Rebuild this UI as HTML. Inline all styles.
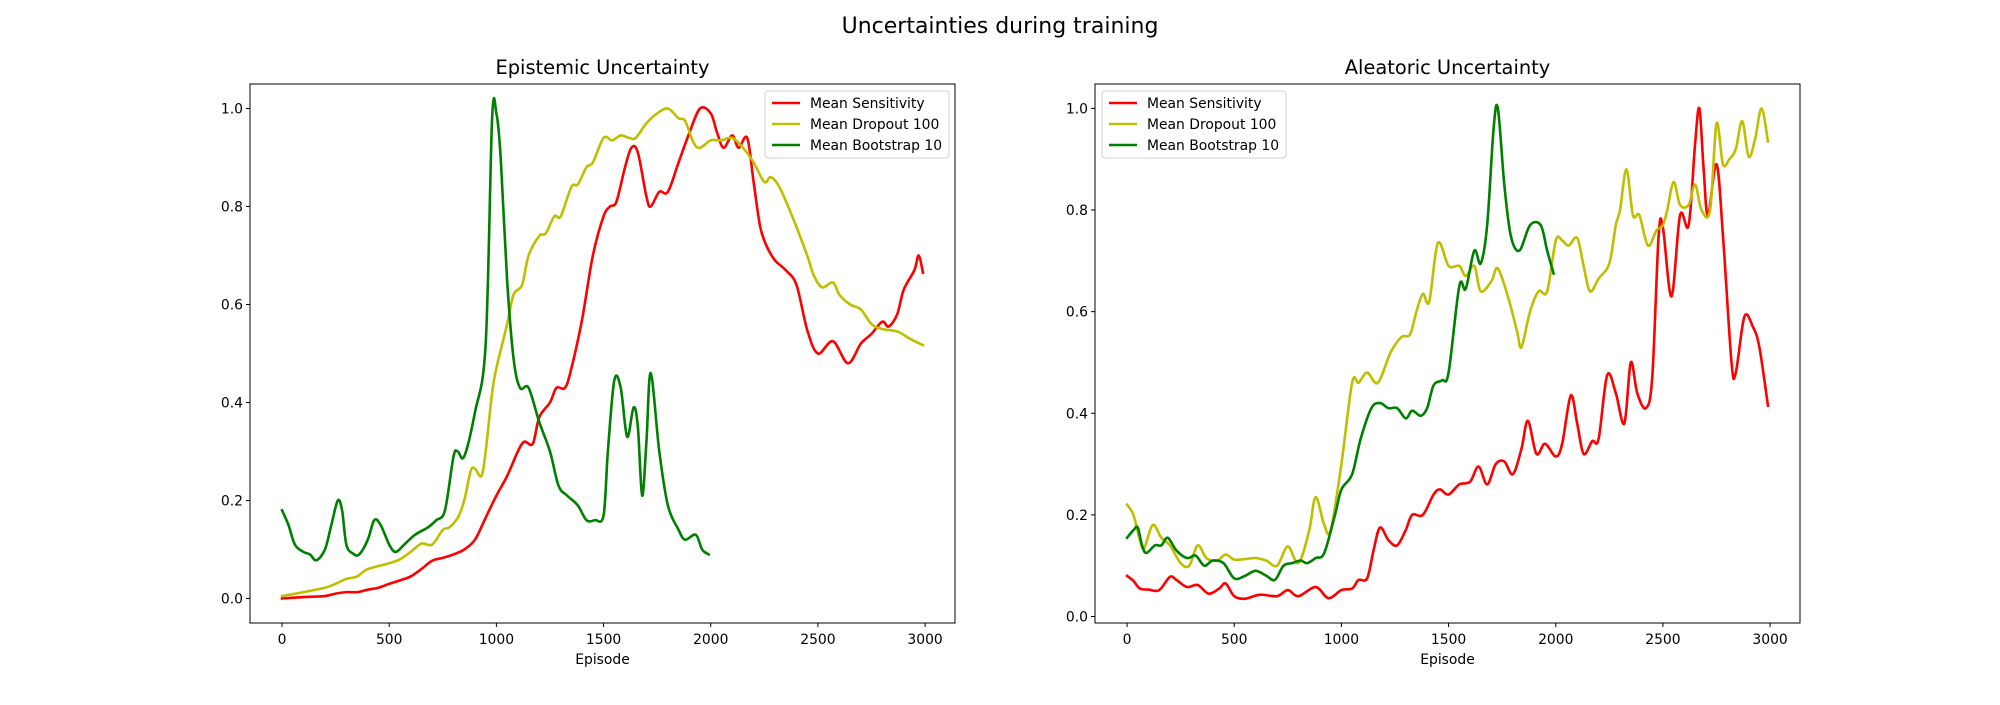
<!DOCTYPE html>
<html><head><meta charset="utf-8"><style>
html,body{margin:0;padding:0;background:#fff;}
svg text{font-family:"DejaVu Sans","Liberation Sans",sans-serif;fill:#000;}
</style></head><body>
<svg id="fig" width="2000" height="700" viewBox="0 0 2000 700" xmlns="http://www.w3.org/2000/svg">
<rect width="2000" height="700" fill="#fff"/>
<text x="1000" y="33" font-size="22" text-anchor="middle">Uncertainties during training</text>
</svg>
<script>
// ---- Epistemic data ----
const epiSensX=[0,100,200,250,300,350,400,450,500,550,600,650,700,750,800,850,900,950,1000,1050,1100,1130,1170,1200,1250,1280,1320,1350,1400,1450,1500,1530,1560,1600,1630,1660,1700,1720,1760,1800,1850,1900,1950,2000,2030,2060,2100,2130,2170,2200,2230,2260,2300,2350,2400,2450,2500,2570,2640,2700,2750,2800,2830,2870,2900,2950,2970,2990];
const epiSensY=[0,0.003,0.005,0.01,0.013,0.013,0.018,0.022,0.03,0.037,0.045,0.06,0.077,0.083,0.09,0.1,0.12,0.165,0.21,0.25,0.3,0.32,0.316,0.37,0.4,0.43,0.43,0.47,0.57,0.7,0.78,0.8,0.81,0.88,0.92,0.91,0.82,0.8,0.83,0.83,0.89,0.95,1.0,0.99,0.95,0.92,0.945,0.92,0.94,0.85,0.76,0.72,0.69,0.67,0.64,0.548,0.5,0.525,0.48,0.52,0.54,0.565,0.555,0.58,0.63,0.67,0.70,0.665];
const epiDropX=[0,100,200,250,300,350,400,500,550,600,650,700,750,780,820,850,880,900,930,950,980,1000,1050,1080,1120,1150,1200,1230,1270,1300,1350,1380,1420,1450,1500,1540,1580,1620,1650,1700,1750,1800,1850,1880,1920,1950,2000,2050,2100,2150,2200,2250,2280,2320,2380,2450,2480,2520,2570,2600,2650,2700,2750,2800,2870,2930,2990];
const epiDropY=[0.005,0.013,0.022,0.03,0.04,0.045,0.06,0.072,0.08,0.095,0.112,0.11,0.14,0.145,0.165,0.2,0.26,0.265,0.25,0.3,0.42,0.47,0.56,0.62,0.64,0.7,0.74,0.745,0.78,0.78,0.84,0.845,0.88,0.89,0.94,0.935,0.945,0.94,0.94,0.97,0.99,1.0,0.98,0.975,0.93,0.92,0.935,0.935,0.94,0.92,0.89,0.85,0.86,0.84,0.78,0.7,0.66,0.635,0.645,0.62,0.6,0.59,0.56,0.55,0.545,0.53,0.517];
const epiBootX=[0,30,60,100,130,160,200,230,260,280,300,330,360,400,430,460,500,530,570,620,680,720,760,800,820,850,900,950,980,1000,1020,1050,1080,1110,1150,1200,1250,1290,1330,1380,1420,1460,1500,1520,1550,1580,1610,1640,1660,1680,1700,1720,1760,1800,1850,1880,1930,1960,1990];
const epiBootY=[0.18,0.15,0.11,0.095,0.09,0.078,0.1,0.15,0.2,0.18,0.11,0.092,0.09,0.12,0.16,0.15,0.11,0.095,0.11,0.13,0.145,0.16,0.18,0.29,0.3,0.29,0.38,0.52,0.98,0.99,0.9,0.65,0.49,0.43,0.43,0.36,0.3,0.23,0.21,0.19,0.16,0.16,0.17,0.3,0.445,0.43,0.33,0.39,0.35,0.21,0.32,0.46,0.3,0.19,0.14,0.12,0.13,0.1,0.09];
// ---- Aleatoric data ----
const aleSensX=[0,30,60,100,150,200,230,280,330,380,430,460,500,550,620,700,750,800,880,940,1000,1050,1080,1120,1150,1180,1220,1260,1300,1330,1380,1430,1460,1500,1550,1600,1640,1680,1720,1760,1800,1840,1870,1910,1950,2000,2030,2070,2100,2130,2170,2200,2240,2280,2320,2350,2380,2420,2450,2480,2500,2540,2580,2620,2650,2670,2690,2710,2750,2780,2820,2840,2880,2920,2950,2990];
const aleSensY=[0.08,0.07,0.055,0.053,0.052,0.078,0.072,0.058,0.062,0.045,0.055,0.065,0.04,0.035,0.043,0.04,0.052,0.04,0.058,0.036,0.052,0.055,0.072,0.075,0.13,0.175,0.15,0.14,0.17,0.2,0.2,0.24,0.25,0.24,0.26,0.265,0.295,0.26,0.3,0.305,0.28,0.33,0.385,0.32,0.34,0.315,0.34,0.435,0.38,0.32,0.345,0.35,0.475,0.44,0.38,0.5,0.44,0.41,0.47,0.75,0.765,0.63,0.79,0.77,0.93,1.0,0.88,0.79,0.89,0.75,0.5,0.48,0.59,0.57,0.53,0.415];
const aleDropX=[0,30,60,80,120,160,200,250,290,330,370,420,460,500,550,600,650,700,750,800,850,880,920,950,1000,1050,1080,1120,1170,1230,1280,1320,1350,1380,1410,1450,1500,1550,1580,1620,1650,1700,1730,1780,1820,1840,1880,1920,1960,2000,2030,2060,2100,2130,2160,2200,2250,2280,2300,2330,2360,2390,2430,2470,2500,2520,2550,2580,2620,2650,2680,2720,2750,2780,2810,2840,2870,2900,2930,2960,2990];
const aleDropY=[0.22,0.2,0.15,0.135,0.18,0.155,0.14,0.105,0.1,0.14,0.115,0.11,0.122,0.112,0.113,0.115,0.11,0.1,0.138,0.105,0.17,0.235,0.18,0.17,0.3,0.46,0.46,0.48,0.46,0.52,0.55,0.555,0.6,0.635,0.62,0.735,0.69,0.69,0.67,0.69,0.64,0.66,0.685,0.625,0.56,0.53,0.6,0.64,0.64,0.74,0.74,0.73,0.745,0.69,0.64,0.665,0.695,0.77,0.8,0.88,0.79,0.79,0.73,0.76,0.77,0.8,0.855,0.81,0.81,0.85,0.8,0.8,0.97,0.89,0.9,0.92,0.975,0.905,0.94,1.0,0.935];
const aleBootX=[0,30,50,70,90,130,160,190,230,280,320,360,400,450,500,550,600,650,690,730,770,810,840,880,920,970,1000,1050,1090,1140,1180,1220,1260,1300,1330,1370,1400,1430,1470,1500,1550,1580,1620,1650,1680,1710,1730,1760,1790,1830,1880,1930,1960,1990];
const aleBootY=[0.155,0.17,0.175,0.14,0.125,0.14,0.14,0.155,0.13,0.115,0.12,0.1,0.11,0.105,0.075,0.08,0.09,0.08,0.072,0.1,0.105,0.11,0.105,0.115,0.125,0.2,0.25,0.28,0.35,0.41,0.42,0.41,0.41,0.39,0.405,0.395,0.41,0.455,0.465,0.48,0.65,0.645,0.72,0.695,0.77,0.96,1.0,0.85,0.75,0.72,0.77,0.77,0.72,0.675];
const xTicks=[0,500,1000,1500,2000,2500,3000];
const yTicks=[0.0,0.2,0.4,0.6,0.8,1.0];
const seriesNames=["Mean Sensitivity","Mean Dropout 100","Mean Bootstrap 10"];
const colors=["#ff0000","#bfbf00","#008000"];

const NS="http://www.w3.org/2000/svg";
const fig=document.getElementById('fig');
function mk(tag,attrs,parent){const e=document.createElementNS(NS,tag);for(const k in attrs)e.setAttribute(k,attrs[k]);(parent||fig).appendChild(e);return e;}

function drawPanel(cfg){
  const {left,top,w,h,xmin,xmax,ymin,ymax,title,series,legendX,key}=cfg;
  const g=mk('g',{});
  
  
  const sx=v=>left+(v-xmin)/(xmax-xmin)*w;
  const sy=v=>top+h-(v-ymin)/(ymax-ymin)*h;
  const t=mk('text',{x:left+w/2,y:top-10,'font-size':19.4,'text-anchor':'middle'},g);
  t.textContent=title;
  
  
  series.forEach((s,i)=>{
    const xs=s[0],ys=s[1];
    const P=xs.map((x,j)=>[sx(x),sy(ys[j])]);
    let d='M'+P[0][0].toFixed(2)+','+P[0][1].toFixed(2);
    for(let j=0;j<P.length-1;j++){
      const p0=P[Math.max(0,j-1)],p1=P[j],p2=P[j+1],p3=P[Math.min(P.length-1,j+2)];
      const c1=[p1[0]+(p2[0]-p0[0])/6,p1[1]+(p2[1]-p0[1])/6];
      const c2=[p2[0]-(p3[0]-p1[0])/6,p2[1]-(p3[1]-p1[1])/6];
      d+=' C'+c1[0].toFixed(2)+','+c1[1].toFixed(2)+' '+c2[0].toFixed(2)+','+c2[1].toFixed(2)+' '+p2[0].toFixed(2)+','+p2[1].toFixed(2);
    }
    const p=mk('path',{d:d,fill:'none',stroke:colors[i],'stroke-width':2.6,'stroke-linejoin':'round','stroke-linecap':'square'},g);
    
    
  });
  const frame=mk('rect',{x:left,y:top,width:w,height:h,fill:'none',stroke:'#000','stroke-width':1},g);
  
  
  xTicks.forEach(v=>{
    const x=sx(v);
    mk('line',{x1:x,x2:x,y1:top+h,y2:top+h+4,stroke:'#000','stroke-width':1},g);
    const tl=mk('text',{x:x,y:top+h+21,'font-size':13.9,'text-anchor':'middle'},g);
    tl.textContent=String(v);
    
    
  });
  yTicks.forEach(v=>{
    const y=sy(v);
    mk('line',{x1:left-4,x2:left,y1:y,y2:y,stroke:'#000','stroke-width':1},g);
    const tl=mk('text',{x:left-7,y:y+5,'font-size':13.9,'text-anchor':'end'},g);
    tl.textContent=v.toFixed(1);
    
    
  });
  const xl=mk('text',{x:left+w/2,y:top+h+41,'font-size':13.9,'text-anchor':'middle'},g);
  xl.textContent='Episode';
  
  
  const lg=mk('g',{},g);
  
  
  mk('rect',{x:legendX,y:91,width:184,height:67,rx:3,fill:'#fff','fill-opacity':0.8,stroke:'#d0d0d0','stroke-width':1},lg);
  seriesNames.forEach((n,i)=>{
    const yy=103+i*21;
    mk('line',{x1:legendX+7,x2:legendX+35,y1:yy,y2:yy,stroke:colors[i],'stroke-width':2.6},lg);
    const lt=mk('text',{x:legendX+45,y:yy+5,'font-size':13.9},lg);
    lt.textContent=n;
    
    
  });
}
drawPanel({key:'epistemic',left:250,top:84,w:705,h:539,xmin:-149.5,xmax:3139.5,ymin:-0.05,ymax:1.05,title:'Epistemic Uncertainty',legendX:765,
  series:[[epiSensX,epiSensY],[epiDropX,epiDropY],[epiBootX,epiBootY]]});
drawPanel({key:'aleatoric',left:1095,top:84,w:705,h:539,xmin:-149.5,xmax:3139.5,ymin:-0.0128,ymax:1.048,title:'Aleatoric Uncertainty',legendX:1102,
  series:[[aleSensX,aleSensY],[aleDropX,aleDropY],[aleBootX,aleBootY]]});
</script>
</body></html>
